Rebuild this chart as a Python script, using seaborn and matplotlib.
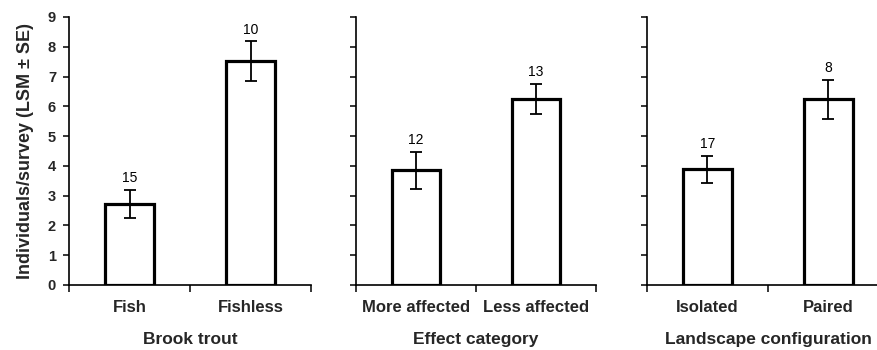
import matplotlib
matplotlib.use("Agg")
import matplotlib.pyplot as plt
import seaborn as sns
import pandas as pd

# ---- data ----
group_labels = ["Brook trout", "Effect category", "Landscape configuration"]

cats_trout = ["Fish", "Fishless"]
means_trout = [2.72, 7.52]
se_trout = [0.47, 0.66]
n_trout = [15, 10]

cats_effect = ["More affected", "Less affected"]
means_effect = [3.86, 6.25]
se_effect = [0.62, 0.50]
n_effect = [12, 13]

cats_land = ["Isolated", "Paired"]
means_land = [3.89, 6.23]
se_land = [0.45, 0.66]
n_land = [17, 8]

y_ticks = list(range(10))
y_label = "Individuals/survey (LSM ± SE)"

panels = [
    (cats_trout, means_trout, se_trout, n_trout),
    (cats_effect, means_effect, se_effect, n_effect),
    (cats_land, means_land, se_land, n_land),
]

sns.set_theme(style="ticks")
plt.rcParams['font.family'] = ['Liberation Sans', 'DejaVu Sans']

W, H = 878, 350
fig = plt.figure(figsize=(W / 100, H / 100), dpi=100)
rects = [
    (69 / W, 65 / H, 242 / W, 268 / H),
    (356 / W, 65 / H, 240 / W, 268 / H),
    (647 / W, 65 / H, 242 / W, 268 / H),
]

for i, ((cats, means, ses, ns), rect, glab) in enumerate(zip(panels, rects, group_labels)):
    ax = fig.add_axes(rect)
    df = pd.DataFrame({"cat": cats, "mean": means})
    sns.barplot(data=df, x="cat", y="mean", ax=ax, color="white", saturation=1,
                edgecolor="black", linewidth=2.3, width=0.4, errorbar=None)
    xs = list(range(len(cats)))
    ax.errorbar(xs, means, yerr=ses, fmt="none", ecolor="black",
                elinewidth=1.3, capsize=4.5, capthick=1.3, zorder=3)
    for x, m, s, n in zip(xs, means, ses, ns):
        ax.annotate(str(n), (x, m + s), xytext=(0, 3.5), textcoords="offset points",
                    ha="center", va="bottom", fontsize=10, color="black")
    ax.set_xlim(-0.5, 1.5)
    ax.set_ylim(0, 9)
    ax.set_xticks([-0.5, 0.5, 1.5])
    ax.set_xticklabels([])
    ax.set_xticks(xs, minor=True)
    ax.set_xticklabels(cats, minor=True, fontsize=12, fontweight="bold")
    ax.tick_params(axis="x", which="minor", length=0, pad=11)
    ax.tick_params(axis="x", which="major", length=5, width=1.1, direction="out", color="black")
    ax.set_yticks(y_ticks)
    ax.tick_params(axis="y", length=4.3, width=1.1, pad=5, color="black")
    if i == 0:
        ax.set_yticklabels([str(t) for t in y_ticks], fontsize=10.5, fontweight="bold")
        ax.set_ylabel(y_label, fontsize=13, fontweight="bold", labelpad=10)
    else:
        ax.set_yticklabels([])
        ax.set_ylabel("")
    ax.set_xlabel(glab, fontsize=12.5, fontweight="bold", labelpad=12)
    for sp in ["left", "bottom"]:
        ax.spines[sp].set_linewidth(1.2)
        ax.spines[sp].set_color("black")
    sns.despine(ax=ax)

fig.savefig("out.png", dpi=100)
